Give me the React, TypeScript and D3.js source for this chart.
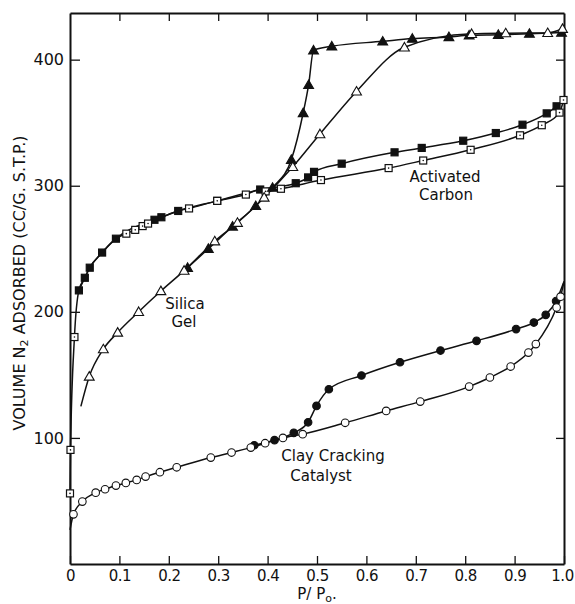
import { useEffect, useRef } from 'react';
import * as d3 from 'd3';

type Pt = [number, number];

// axis ticks
const X_TICKS = [0, 0.1, 0.2, 0.3, 0.4, 0.5, 0.6, 0.7, 0.8, 0.9, 1.0];
const Y_TICKS = [100, 200, 300, 400];

// Activated carbon: open squares (adsorption), filled squares (desorption)
const carbonOpen: Pt[] = [
  [0, 56], [0.001, 90.5], [0.009, 180], [0.114, 262], [0.132, 265], [0.147, 268],
  [0.158, 270], [0.241, 282], [0.298, 288], [0.356, 293], [0.396, 295.5], [0.427, 297.6],
  [0.508, 304.5], [0.645, 314], [0.715, 320], [0.811, 328.5], [0.911, 340], [0.955, 348],
  [0.991, 358], [0.999, 368],
];
const carbonFilled: Pt[] = [
  [0.018, 217], [0.030, 227], [0.040, 235], [0.065, 247], [0.093, 258], [0.171, 273],
  [0.185, 275], [0.219, 280], [0.298, 288], [0.385, 297], [0.457, 302], [0.482, 306.6],
  [0.494, 311], [0.550, 317.5], [0.657, 326.5], [0.712, 330], [0.796, 335.7], [0.862, 341.8],
  [0.916, 348.4], [0.965, 357.4], [0.985, 363],
];
const carbonEnd: Pt = [0.999, 368];

// Silica gel: open triangles (adsorption), filled triangles (desorption)
const silicaStart: Pt = [0.022, 125];
const silicaOpen: Pt[] = [
  [0.039, 148.7], [0.0675, 170.4], [0.0965, 183.6], [0.139, 200], [0.184, 216.5],
  [0.231, 232.7], [0.293, 256], [0.339, 270.7], [0.393, 290.7], [0.451, 315], [0.506, 341],
  [0.580, 374.8], [0.677, 409.8], [0.813, 420.5], [0.882, 421], [0.967, 421.2], [0.997, 424.5],
];
const silicaFilled: Pt[] = [
  [0.238, 235], [0.280, 250], [0.329, 267.7], [0.376, 284], [0.410, 298.5], [0.448, 320.6],
  [0.472, 357.7], [0.483, 380], [0.493, 407.4], [0.530, 410.6], [0.633, 414.5], [0.693, 416.7],
  [0.767, 418], [0.808, 419.3], [0.867, 419.8], [0.930, 420.6], [0.995, 421.5],
];

// Clay cracking catalyst: open circles (adsorption), filled circles (desorption)
const clayStart: Pt = [0, 27];
const clayOpen: Pt[] = [
  [0.007, 39.4], [0.025, 49.5], [0.052, 56.6], [0.071, 59.3], [0.093, 62.2], [0.113, 64.3],
  [0.135, 66.7], [0.153, 69.3], [0.182, 72.8], [0.216, 76.7], [0.285, 84.4], [0.327, 88.4],
  [0.366, 92.3], [0.395, 95.8], [0.431, 100], [0.471, 103], [0.557, 112], [0.640, 121.4],
  [0.709, 128.8], [0.808, 140.7], [0.850, 147.9], [0.892, 156.6], [0.928, 167.7],
  [0.943, 174.4], [0.985, 203.4], [0.993, 212],
];
const clayFilled: Pt[] = [
  [0.373, 94.2], [0.414, 98.2], [0.453, 104], [0.482, 112.4], [0.499, 125.4], [0.524, 138.6],
  [0.590, 149.5], [0.668, 160], [0.750, 169.3], [0.823, 177], [0.903, 186.3], [0.939, 191.5],
  [0.963, 197.6], [0.984, 208.5],
];
const clayEnd: Pt = [1.0, 224];

const FONT = '"DejaVu Sans", sans-serif';

const App = () => {
  const svgRef = useRef<SVGSVGElement>(null);
  const width = 575;
  const height = 604;

  useEffect(() => {
    if (!svgRef.current) return;
    const svg = d3.select(svgRef.current);
    svg.selectAll('*').remove();

    const x = d3.scaleLinear().domain([0, 1]).range([70, 564]);
    const y = d3.scaleLinear().domain([0, 437]).range([564, 13]);

    svg.append('rect').attr('width', width).attr('height', height).attr('fill', 'white');

    const line = d3.line<Pt>()
      .x(d => x(d[0]))
      .y(d => y(d[1]))
      .curve(d3.curveMonotoneX);

    const byX = (a: Pt, b: Pt) => a[0] - b[0];
    // lower branch shares the upper branch points where the two coincide (x < 0.4)
    const carbonAds = carbonOpen.concat(carbonFilled.filter(d => d[0] < 0.4 && !carbonOpen.some(o => o[0] === d[0]))).sort(byX);
    const silicaAds = [silicaStart, ...silicaOpen];
    const clayAds = [clayStart, ...clayOpen, clayEnd];

    const curves: Pt[][] = [
      carbonAds,
      [...carbonFilled, carbonEnd],
      silicaAds,
      silicaFilled,
      clayAds,
      [...clayFilled, clayEnd],
    ];

    svg.append('g')
      .selectAll('path')
      .data(curves)
      .enter().append('path')
      .attr('d', d => line(d))
      .attr('fill', 'none')
      .attr('stroke', '#111')
      .attr('stroke-width', 1.5);

    // frame + axes
    const fmt = (d: any) => (d === 0 ? '0' : d3.format('.1f')(d));
    const styleAxis = (g: any) => {
      g.select('.domain').attr('stroke', '#111').attr('stroke-width', 2);
      g.selectAll('.tick line').attr('stroke', '#111').attr('stroke-width', 1.3);
      g.selectAll('.tick text').attr('fill', '#111').style('font-family', FONT).style('font-size', '16px');
    };

    const bottom = svg.append('g')
      .attr('transform', 'translate(0,564)')
      .call(d3.axisBottom(x).tickValues(X_TICKS).tickSizeInner(-8).tickSizeOuter(0).tickPadding(6).tickFormat(fmt))
      .call(styleAxis);
    bottom.selectAll('.tick text')
      .style('font-size', '15px')
      .style('letter-spacing', '-0.5px')
      .attr('dx', (d: any) => (d === 1 ? -2 : 0));

    svg.append('g')
      .attr('transform', 'translate(0,13)')
      .call(d3.axisTop(x).tickValues(X_TICKS.slice(1, -1)).tickSizeInner(-8).tickSizeOuter(0).tickFormat(() => ''))
      .call(styleAxis);

    svg.append('g')
      .attr('transform', 'translate(70,0)')
      .call(d3.axisLeft(y).tickValues(Y_TICKS).tickSizeInner(-10).tickSizeOuter(0).tickPadding(6))
      .call(styleAxis);

    svg.append('g')
      .attr('transform', 'translate(564,0)')
      .call(d3.axisRight(y).tickValues(Y_TICKS).tickSizeInner(-8).tickSizeOuter(0).tickFormat(() => ''))
      .call(styleAxis);

    // markers
    const mk = svg.append('g');
    const sq = 7;
    const drawSquares = (data: Pt[], filled: boolean) => {
      mk.selectAll(null).data(data).enter().append('rect')
        .attr('x', d => x(d[0]) - sq / 2)
        .attr('y', d => y(d[1]) - sq / 2)
        .attr('width', sq).attr('height', sq)
        .attr('fill', filled ? '#111' : 'white')
        .attr('stroke', '#111').attr('stroke-width', 1.2);
      if (!filled) {
        mk.selectAll(null).data(data).enter().append('circle')
          .attr('cx', d => x(d[0])).attr('cy', d => y(d[1])).attr('r', 0.8).attr('fill', '#111');
      }
    };
    const tri = d3.symbol().type(d3.symbolTriangle).size(42);
    const drawTriangles = (data: Pt[], filled: boolean) => {
      mk.selectAll(null).data(data).enter().append('path')
        .attr('d', tri() as string)
        .attr('transform', d => `translate(${x(d[0])},${y(d[1]) + 0.8})`)
        .attr('fill', filled ? '#111' : 'white')
        .attr('stroke', '#111').attr('stroke-width', 1.1);
    };
    const drawCircles = (data: Pt[], filled: boolean) => {
      mk.selectAll(null).data(data).enter().append('circle')
        .attr('cx', d => x(d[0])).attr('cy', d => y(d[1])).attr('r', 3.8)
        .attr('fill', filled ? '#111' : 'white')
        .attr('stroke', '#111').attr('stroke-width', 1.1);
    };

    drawSquares(carbonFilled, true);
    drawSquares(carbonOpen, false);
    drawTriangles(silicaFilled, true);
    drawTriangles(silicaOpen, false);
    drawCircles(clayFilled, true);
    drawCircles(clayOpen, false);

    // annotations
    const notes: [string, number, number][] = [
      ['Silica', 185, 309], ['Gel', 184, 327],
      ['Activated', 445, 182], ['Carbon', 446, 200],
      ['Clay Cracking', 333, 461], ['Catalyst', 321, 481],
    ];
    svg.append('g').selectAll('text').data(notes).enter().append('text')
      .attr('x', d => d[1]).attr('y', d => d[2])
      .attr('text-anchor', 'middle')
      .style('font-family', FONT).style('font-size', '15px').attr('fill', '#111')
      .text(d => d[0]);

    // axis titles
    const xt = svg.append('text')
      .attr('x', 317).attr('y', 599)
      .attr('text-anchor', 'middle')
      .style('font-family', FONT).style('font-size', '15px').attr('fill', '#111');
    xt.append('tspan').text('P/ P');
    xt.append('tspan').attr('dy', 3).style('font-size', '11px').text('o');
    xt.append('tspan').attr('dy', -3).text('.');

    const yt = svg.append('text')
      .attr('transform', 'translate(25,283) rotate(-90)')
      .attr('text-anchor', 'middle')
      .style('font-family', FONT).style('font-size', '16px').attr('fill', '#111');
    yt.append('tspan').text('VOLUME N');
    yt.append('tspan').attr('dy', 3).style('font-size', '11px').text('2');
    yt.append('tspan').attr('dy', -3).text(' ADSORBED (CC/G. S.T.P.)');
  }, []);

  return (
    <svg
      ref={svgRef}
      width={width}
      height={height}
      style={{ position: 'absolute', left: 0, top: 0, display: 'block' }}
    />
  );
};

export default App;
